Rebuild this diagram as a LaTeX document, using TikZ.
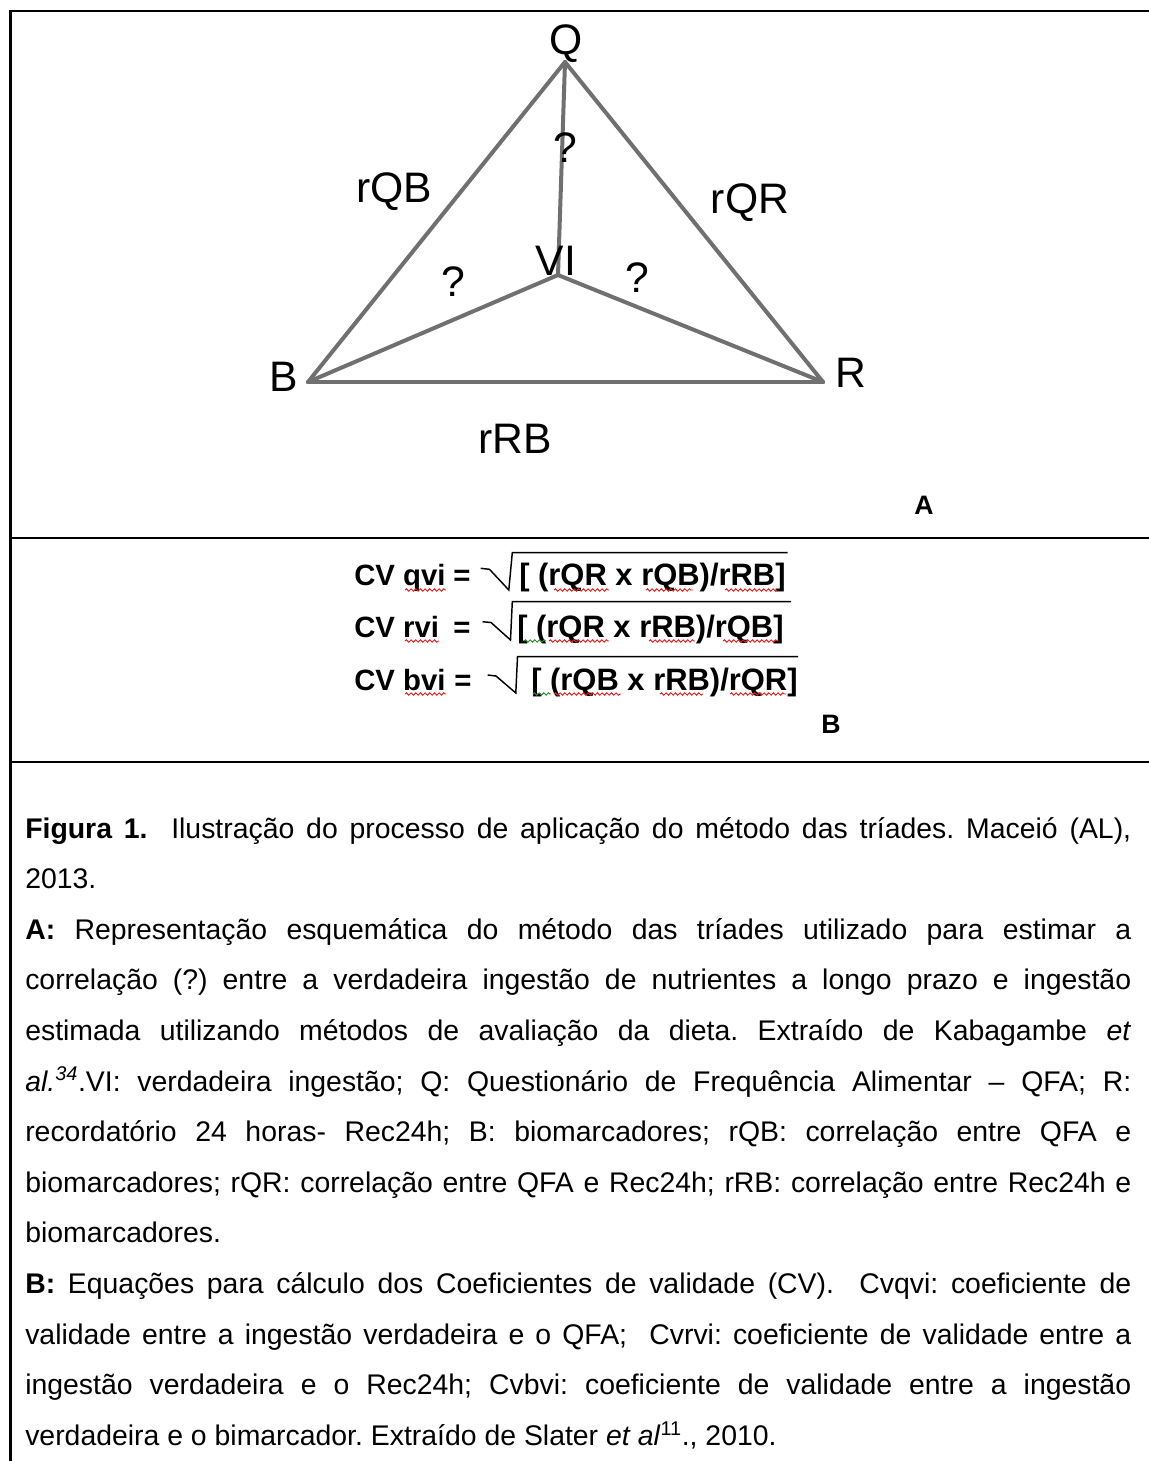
\documentclass[tikz,border=0pt]{standalone}
\usepackage{fontspec}
\setmainfont{Liberation Sans}
\usetikzlibrary{decorations.pathmorphing}
\definecolor{edgegray}{RGB}{112,112,112}
\definecolor{spellred}{RGB}{230,30,30}
\definecolor{spellgreen}{RGB}{40,140,40}
\newcommand\jline[1]{\makebox[829.5pt][s]{#1}}
\frenchspacing
\begin{document}
\frenchspacing
\begin{tikzpicture}[x=0.75pt,y=-0.75pt,
  tri/.style={draw=edgegray, line width=3pt, line cap=round, line join=round},
  lbl/.style={font=\fontsize{32pt}{36pt}\selectfont, inner sep=0pt, anchor=base},
  eq/.style={font=\fontsize{22pt}{26pt}\selectfont\bfseries, inner sep=0pt, anchor=base west},
  eqbig/.style={font=\fontsize{23.2pt}{27pt}\selectfont\bfseries, inner sep=0pt, anchor=base west},
  eqmid/.style={font=\fontsize{22pt}{26pt}\selectfont\bfseries, inner sep=0pt, anchor=base},
  captext/.style={font=\fontsize{21.3pt}{25pt}\selectfont\frenchspacing, inner sep=0pt, anchor=base west},
  panel/.style={font=\fontsize{20pt}{24pt}\selectfont\bfseries, inner sep=0pt, anchor=base},
  rad/.style={draw, line width=1.1pt, line join=miter},
  wavy/.style={draw=spellred, line width=0.7pt, decorate, decoration={snake, amplitude=0.9pt, segment length=3.5pt}},
  wavyg/.style={wavy, draw=spellgreen},
  frame/.style={draw, line width=2pt}]
\useasboundingbox (0,0) rectangle (1149,1461);

% frame
\draw[frame] (10.5,1461) -- (10.5,11) -- (1149,11);
\draw[frame] (10.5,538) -- (1149,538);
\draw[frame] (10.5,762) -- (1149,762);

% triangle vertices
\coordinate (q) at (565,62);
\coordinate (b) at (308,382);
\coordinate (r) at (823,382);
\coordinate (v) at (558,275);

\draw[tri] (q) -- (b);
\draw[tri] (q) -- (r);
\draw[tri] (b) -- (r);
\draw[tri] (q) -- (v);
\draw[tri] (v) -- (b);
\draw[tri] (v) -- (r);

% labels
\node[lbl] (lQ) at (566,54) {Q};
\node[lbl] (lB) at (284,391) {B};
\node[lbl] (lR) at (851,387) {R};
\node[lbl] (lVI) at (556,275) {VI};
\node[lbl] (lrQB) at (394,202) {rQB};
\node[lbl] (lrQR) at (750,213) {rQR};
\node[lbl] (lrRB) at (515,453) {rRB};
\node[lbl] (qm1) at (565,162) {?};
\node[lbl] (qm2) at (453,296) {?};
\node[lbl] (qm3) at (637,292) {?};

\node[panel] (pA) at (924,514) {A};

% formulas
\node[eq] (cv1) at (354,585) {CV qvi};
\node[eqmid] (eq1) at (462,585) {=};
\node[eqbig] (f1) at (519,585) {[ (rQR x rQB)/rRB]};
\draw[rad] (480.7,568.3) -- (489.5,569.3) -- (508.8,590) -- (512.3,552.7) -- (787.7,552.7);

\node[eq] (cv2) at (354,637) {CV rvi};
\node[eqmid] (eq2) at (462,637) {=};
\node[eqbig] (f2) at (517,637) {[ (rQR x rRB)/rQB]};
\draw[rad] (482.5,621.7) -- (491,622.5) -- (510.5,640) -- (512.3,601.7) -- (791.2,601.7);

\node[eq] (cv3) at (354,690) {CV bvi};
\node[eqmid] (eq3) at (463,690) {=};
\node[eqbig] (f3) at (531,690) {[ (rQB x rRB)/rQR]};
\draw[rad] (487.7,675) -- (496,676) -- (515.8,693) -- (517.5,656.7) -- (798,656.7);

% spell-check underlines
\draw[wavy] (405,590) -- (446,590);
\draw[wavy] (554,590) -- (609,590);
\draw[wavy] (646,590) -- (693,590);
\draw[wavy] (725,590) -- (777,590);
\draw[wavy] (405,641) -- (439,641);
\draw[wavyg] (524,641) -- (546,641);
\draw[wavy] (549,641) -- (609,641);
\draw[wavy] (649,641) -- (695,641);
\draw[wavy] (723,641) -- (779,641);
\draw[wavy] (405,694) -- (446,694);
\draw[wavyg] (533,694) -- (551,694);
\draw[wavy] (554,694) -- (621,694);
\draw[wavy] (660,694) -- (703,694);
\draw[wavy] (730,694) -- (786,694);

\node[panel] (pB) at (831,733) {B};

% caption
\node[captext] (c1) at (25,838) {\jline{\textbf{Figura 1.}\ \ Ilustração do processo de aplicação do método das tríades. Maceió (AL),}};
\node[captext] (c2) at (25,888.6) {2013.};
\node[captext] (c3) at (25,939.2) {\jline{\textbf{A:} Representação esquemática do método das tríades utilizado para estimar a}};
\node[captext] (c4) at (25,989.8) {\jline{correlação (?) entre a verdadeira ingestão de nutrientes a longo prazo e ingestão}};
\node[captext] (c5) at (25,1040.4) {\jline{estimada utilizando métodos de avaliação da dieta. Extraído de Kabagambe \textit{et}}};
\node[captext] (c6) at (25,1091) {\jline{\textit{al.}\textsuperscript{\itshape 34}.VI: verdadeira ingestão; Q: Questionário de Frequência Alimentar – QFA; R:}};
\node[captext] (c7) at (25,1141.6) {\jline{recordatório 24 horas- Rec24h; B: biomarcadores; rQB: correlação entre QFA e}};
\node[captext] (c8) at (25,1192.2) {\jline{biomarcadores; rQR: correlação entre QFA e Rec24h; rRB: correlação entre Rec24h e}};
\node[captext] (c9) at (25,1242.8) {biomarcadores.};
\node[captext] (c10) at (25,1293.4) {\jline{\textbf{B:} Equações para cálculo dos Coeficientes de validade (CV).\ \ Cvqvi: coeficiente de}};
\node[captext] (c11) at (25,1344) {\jline{validade entre a ingestão verdadeira e o QFA;\ \ Cvrvi: coeficiente de validade entre a}};
\node[captext] (c12) at (25,1394.6) {\jline{ingestão verdadeira e o Rec24h; Cvbvi: coeficiente de validade entre a ingestão}};
\node[captext] (c13) at (25,1445.2) {verdadeira e o bimarcador. Extraído de Slater \textit{et al}\textsuperscript{11}., 2010.};
\end{tikzpicture}
\end{document}
